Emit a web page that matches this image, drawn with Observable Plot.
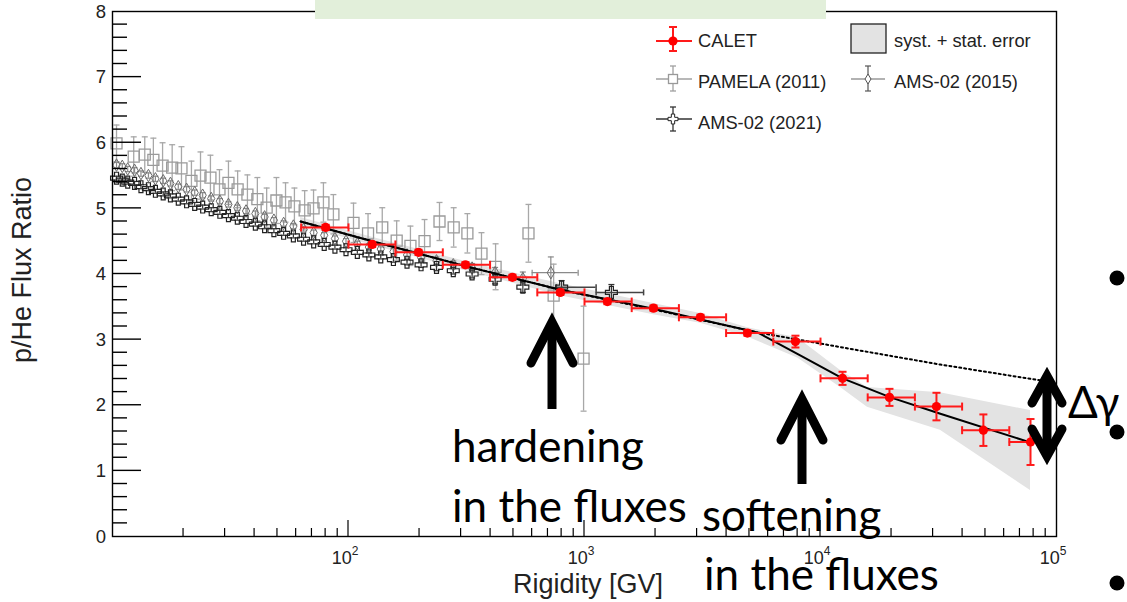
<!DOCTYPE html>
<html><head><meta charset="utf-8">
<script src="https://cdn.jsdelivr.net/npm/d3@7"></script>
<script src="https://cdn.jsdelivr.net/npm/@observablehq/plot@0.6"></script>
<style>body{margin:0;background:#fff;} svg{display:block;}</style>
</head><body><div id="chart"></div>
<script>
// ---------- data ----------
const calR     = [80,126,198,313,495,790,1250,1960,3100,4900,7830,12400,19600,31000,49000,77600];
const calRatio = [4.71,4.45,4.33,4.14,3.95,3.72,3.58,3.48,3.34,3.10,2.97,2.41,2.12,1.98,1.62,1.44];
const calErr   = [0.04,0.04,0.04,0.04,0.04,0.04,0.04,0.04,0.04,0.04,0.09,0.10,0.13,0.21,0.24,0.35];
const calLo    = [63,100,158,251,398,631,1000,1585,2512,3981,6310,10000,15849,25119,39811,63096];
const calHi    = [100,158,251,398,631,1000,1585,2512,3981,6310,10000,15849,25119,39811,63096,100000];

const bandR  = [62.7,126,313,790,1960,3100,4910,8000,12160,15810,32200,77600];
const bandLo = [4.74,4.44,4.05,3.67,3.38,3.25,3.04,2.72,2.27,1.97,1.62,0.70];
const bandHi = [4.86,4.56,4.19,3.85,3.55,3.40,3.18,3.03,2.53,2.27,2.19,1.92];

const fitR     = [62.7,126,313,790,1960,5400,8200,12400,19800,32200,78000];
const fitRatio = [4.80,4.50,4.12,3.76,3.47,3.11,2.76,2.41,2.12,1.87,1.43];
const dotR     = [62.7,126,313,790,1960,5400,12400,32200,85000];
const dotRatio = [4.80,4.50,4.12,3.76,3.46,3.11,2.88,2.62,2.38];

const pamR     = [10.4,12.3,13.7,14.9,16.3,17.9,19.6,21.6,23.6,26.0,28.4,31.0,33.9,37.3,41.1,45.0,49.5,54.1,59.0,65.2,71.1,78.3,86.3,105,121,139,160,183,210,243,279,319,366,420,579,740,991];
const pamRatio = [5.99,5.79,5.82,5.74,5.65,5.62,5.61,5.42,5.50,5.47,5.29,5.39,5.29,5.21,5.14,5.01,5.12,5.09,5.03,4.97,5.00,5.09,4.91,4.78,4.62,4.71,4.51,4.43,4.50,4.80,4.71,4.62,4.31,4.11,4.62,3.67,2.71];
const pamErr   = [0.28,0.30,0.27,0.33,0.35,0.35,0.33,0.30,0.36,0.34,0.30,0.33,0.28,0.30,0.33,0.30,0.35,0.30,0.28,0.30,0.28,0.30,0.30,0.30,0.30,0.30,0.30,0.30,0.33,0.29,0.30,0.30,0.32,0.35,0.44,0.48,0.80];

const ams21R     = [10.4,11.0,11.6,12.4,13.2,14.2,15.2,16.4,17.6,19.0,20.6,22.3,24.1,26.2,28.5,31.0,33.8,36.8,40.3,44.1,48.3,53.1,58.4,64.5,71.2,78.9,87.6,97.6,109,122,137,155,177,203,236,278,334,418,548,800,1300];
const ams21Ratio = [5.46,5.43,5.40,5.38,5.33,5.30,5.26,5.22,5.19,5.14,5.10,5.06,5.02,4.98,4.94,4.89,4.85,4.80,4.76,4.72,4.66,4.62,4.58,4.53,4.49,4.45,4.41,4.37,4.33,4.29,4.26,4.22,4.18,4.14,4.10,4.05,4.00,3.92,3.80,3.80,3.72];
const ams21Err   = [0.03,0.03,0.03,0.03,0.03,0.03,0.03,0.03,0.03,0.03,0.03,0.03,0.03,0.03,0.03,0.03,0.03,0.03,0.03,0.03,0.03,0.03,0.03,0.03,0.03,0.03,0.03,0.03,0.03,0.03,0.03,0.04,0.04,0.04,0.05,0.05,0.06,0.07,0.08,0.10,0.12];
const ams21WideR  = [800,1300];
const ams21WideLo = [760,1120];
const ams21WideHi = [1120,1780];

const ams15R     = [10.4,11.0,11.6,12.4,13.2,14.2,15.2,16.4,17.6,19.0,20.6,22.3,24.1,26.2,28.5,31.0,33.8,36.8,40.3,44.1,48.3,53.1,58.4,64.5,71.2,78.9,87.6,97.6,109,122,137,155,177,203,236,278,334,418,548,720];
const ams15Ratio = [5.66,5.64,5.60,5.58,5.53,5.50,5.45,5.42,5.38,5.33,5.29,5.24,5.20,5.15,5.11,5.06,5.01,4.96,4.92,4.87,4.82,4.77,4.73,4.68,4.63,4.59,4.54,4.50,4.46,4.41,4.38,4.34,4.29,4.25,4.20,4.14,4.09,4.02,3.93,4.02];
const ams15Err   = [0.04,0.04,0.04,0.04,0.04,0.04,0.04,0.04,0.04,0.04,0.04,0.04,0.04,0.04,0.04,0.04,0.04,0.04,0.04,0.04,0.04,0.04,0.04,0.04,0.04,0.04,0.04,0.04,0.04,0.05,0.05,0.05,0.05,0.05,0.06,0.06,0.07,0.08,0.10,0.24];
const ams15WideR  = [720];
const ams15WideLo = [600];
const ams15WideHi = [940];

const xTickValues = [100,1000,10000,100000];
const xTickExp    = ["2","3","4","5"];
const yTickValues = [0,1,2,3,4,5,6,7,8];

const legendLabels = ["CALET","syst. + stat. error","PAMELA (2011)","AMS-02 (2015)","AMS-02 (2021)"];
const xTitle = "Rigidity [GV]";
const yTitle = "p/He Flux Ratio";
const slideTitle = "p/He flux ratio (rigidity)";
const noteHard = ["hardening","in the fluxes"];
const noteSoft = ["softening","in the fluxes"];
const noteDelta = "Δγ";

// ---------- tables ----------
const cal  = calR.map((R,i)=>({R, v:calRatio[i], e:calErr[i], lo:calLo[i], hi:calHi[i]}));
const band = bandR.map((R,i)=>({R, lo:bandLo[i], hi:bandHi[i]}));
const fit  = fitR.map((R,i)=>({R, v:fitRatio[i]}));
const dotl = dotR.map((R,i)=>({R, v:dotRatio[i]}));
const pam  = pamR.map((R,i)=>({R, v:pamRatio[i], e:pamErr[i]}));
const a21  = ams21R.map((R,i)=>({R, v:ams21Ratio[i], e:ams21Err[i]}));
const a15  = ams15R.map((R,i)=>({R, v:ams15Ratio[i], e:ams15Err[i]}));
const a21w = ams21WideR.map((R,i)=>({R, lo:ams21WideLo[i], hi:ams21WideHi[i], v:ams21Ratio[ams21R.indexOf(R)]}));
const a15w = ams15WideR.map((R,i)=>({R, lo:ams15WideLo[i], hi:ams15WideHi[i], v:ams15Ratio[ams15R.indexOf(R)]}));

const capH = {draw(ctx,size){const r=Math.sqrt(size/Math.PI); ctx.moveTo(-r,0); ctx.lineTo(r,0);}};
const capV = {draw(ctx,size){const r=Math.sqrt(size/Math.PI); ctx.moveTo(0,-r); ctx.lineTo(0,r);}};

function errMarks(data, color, w, cap){
  return [
    Plot.ruleX(data,{x:"R", y1:d=>d.v-d.e, y2:d=>d.v+d.e, stroke:color, strokeWidth:w}),
    Plot.dot(data,{x:"R", y:d=>d.v+d.e, symbol:capH, r:cap, stroke:color, strokeWidth:w, fill:"none"}),
    Plot.dot(data,{x:"R", y:d=>d.v-d.e, symbol:capH, r:cap, stroke:color, strokeWidth:w, fill:"none"})
  ];
}
function xBarMarks(data, color, w, cap){
  return [
    Plot.ruleY(data,{y:"v", x1:"lo", x2:"hi", stroke:color, strokeWidth:w}),
    Plot.dot(data,{x:"lo", y:"v", symbol:capV, r:cap, stroke:color, strokeWidth:w, fill:"none"}),
    Plot.dot(data,{x:"hi", y:"v", symbol:capV, r:cap, stroke:color, strokeWidth:w, fill:"none"})
  ];
}

const chart = Plot.plot({
  width:1127, height:602,
  marginLeft:112, marginRight:71, marginTop:11, marginBottom:66,
  x:{type:"log", domain:[10,1e5], axis:null},
  y:{domain:[0,8], axis:null},
  style:{background:"#fff", overflow:"visible"},
  marks:[
    Plot.areaY(band,{x:"R", y1:"lo", y2:"hi", fill:"#e3e3e3"}),
    ...errMarks(pam,"#a8a8a8",1.3,3),
    Plot.dot(pam,{x:"R", y:"v", symbol:"square", r:6.2, stroke:"#9a9a9a", strokeWidth:1.3, fill:"none"}),
    ...errMarks(a15,"#8a8a8a",1.2,3),
    ...xBarMarks(a15w,"#8a8a8a",1.2,3),
    Plot.dot(a15,{x:"R", y:"v", symbol:"diamond", r:3.8, stroke:"#6a6a6a", strokeWidth:1, fill:"none"}),
    ...errMarks(a21,"#333",1.2,3),
    ...xBarMarks(a21w,"#444",1.5,3),
    Plot.dot(a21,{x:"R", y:"v", symbol:"cross", r:5, stroke:"#222", strokeWidth:1.2, fill:"none"}),
    Plot.line(dotl,{x:"R", y:"v", stroke:"#000", strokeWidth:2, strokeDasharray:"2,3"}),
    Plot.line(fit,{x:"R", y:"v", stroke:"#000", strokeWidth:2}),
    ...xBarMarks(cal,"#ff1a1a",2,4),
    ...errMarks(cal,"#ff1a1a",2,4),
    Plot.dot(cal,{x:"R", y:"v", r:4.6, fill:"#ff0000", stroke:"none"}),
    Plot.frame({stroke:"#000", strokeWidth:1.4})
  ]
});
document.getElementById("chart").appendChild(chart);

// ---------- axes, legend, annotations ----------
const sx = chart.scale("x"), sy = chart.scale("y");
const X = v=>sx.apply(v), Y = v=>sy.apply(v);
const svg = d3.select(chart);
const g = svg.append("g").attr("text-anchor","start");
const x0 = X(10), y0 = Y(0);
const ROOTF = "'Liberation Sans', Arial, Helvetica, sans-serif";
const SLIDEF = "Lato, 'Open Sans', sans-serif";
function line(p, a,b,c,d, col, w){ p.append("line").attr("x1",a).attr("y1",b).attr("x2",c).attr("y2",d).attr("stroke",col).attr("stroke-width",w); }

// ticks
const ax = g.append("g");
for (const dec of [10,100,1000,10000]) for (let k=2;k<=9;k++){ const xv=X(dec*k); line(ax,xv,y0,xv,y0-8,"#000",1.2); }
for (const v of xTickValues) if (v>10 && v<1e5){ line(ax,X(v),y0,X(v),y0-16,"#000",1.2); }
for (let i=1;i<40;i++){ const v=i*0.2, major=(i%5===0); line(ax,x0,Y(v),x0+(major?29:15),Y(v),"#000",1.4); }

// tick labels
yTickValues.forEach(v=>{
  g.append("text").attr("x",x0-6).attr("y",Y(v)).attr("dy","0.36em").attr("text-anchor","end")
   .attr("font-family",ROOTF).attr("font-size",18.5).attr("fill","#222").text(String(v));
});
xTickValues.forEach((v,i)=>{
  const t = g.append("text").attr("x",X(v)-3).attr("y",y0+28).attr("text-anchor","middle")
   .attr("font-family",ROOTF).attr("font-size",18).attr("fill","#222");
  t.append("tspan").text("10");
  t.append("tspan").attr("dy",-9).attr("font-size",12).text(xTickExp[i]);
});
// axis titles
g.append("text").attr("x",663).attr("y",593).attr("text-anchor","end")
 .attr("font-family",ROOTF).attr("font-size",27).attr("fill","#222").text(xTitle);
g.append("text").attr("transform","translate(31,177) rotate(-90)").attr("text-anchor","end")
 .attr("font-family",ROOTF).attr("font-size",27).attr("fill","#222").text(yTitle);

// legend
const lg = g.append("g").attr("text-anchor","start");
const lt = (x,y,s)=>lg.append("text").attr("x",x).attr("y",y).attr("text-anchor","start").attr("font-family",ROOTF).attr("font-size",18.3).attr("fill","#222").text(s);
// CALET
line(lg,656,41,692,41,"#ff1a1a",2); line(lg,673,27,673,51,"#ff1a1a",2);
line(lg,669,27,677,27,"#ff1a1a",2); line(lg,669,51,677,51,"#ff1a1a",2);
lg.append("circle").attr("cx",673).attr("cy",41).attr("r",4.6).attr("fill","#ff0000");
lt(698,47,legendLabels[0]);
// band box
lg.append("rect").attr("x",851).attr("y",24).attr("width",35).attr("height",29).attr("fill","#e3e3e3").attr("stroke","#222").attr("stroke-width",1.3);
lt(894,47,legendLabels[1]);
// PAMELA
line(lg,656,79,692,79,"#a0a0a0",1.3); line(lg,673,66,673,91,"#a0a0a0",1.3);
line(lg,670,66,676,66,"#a0a0a0",1.3); line(lg,670,91,676,91,"#a0a0a0",1.3);
lg.append("rect").attr("x",668.5).attr("y",74.5).attr("width",9).attr("height",9).attr("fill","#fff").attr("stroke","#999").attr("stroke-width",1.3);
lt(698,88,legendLabels[2]);
// AMS 2015
line(lg,851,79,885,79,"#666",1.2); line(lg,868,66,868,91,"#555",1.2);
line(lg,865,66,871,66,"#555",1.2); line(lg,865,91,871,91,"#555",1.2);
lg.append("path").attr("d","M868,74L871,79L868,84L865,79Z").attr("fill","#fff").attr("stroke","#555").attr("stroke-width",1);
lt(894,88,legendLabels[3]);
// AMS 2021
line(lg,656,119,692,119,"#333",1.3); line(lg,673,107,673,131,"#333",1.3);
line(lg,670,107,676,107,"#333",1.3); line(lg,670,131,676,131,"#333",1.3);
lg.append("path").attr("d",d3.symbol(d3.symbolCross, 55)()).attr("transform","translate(673,119)").attr("fill","#fff").attr("stroke","#222").attr("stroke-width",1);
lt(698,129,legendLabels[4]);

// slide overlays
const ov = svg.append("g").attr("text-anchor","start");
ov.append("rect").attr("x",315).attr("y",0).attr("width",511).attr("height",19).attr("fill","#e2efda");
ov.append("text").attr("x",335).attr("y",-8).attr("text-anchor","start").attr("font-family",SLIDEF).attr("font-size",46).attr("fill","#000").text(slideTitle);

function upArrow(x, tip, bottom){
  ov.append("path").attr("d",`M${x},${tip+4}L${x},${bottom}`).attr("stroke","#000").attr("stroke-width",9).attr("fill","none");
  ov.append("path").attr("d",`M${x-21},${tip+41}L${x},${tip}L${x+21},${tip+41}`).attr("stroke","#000").attr("stroke-width",9)
    .attr("fill","none").attr("stroke-linecap","round").attr("stroke-linejoin","miter");
}
upArrow(552,322,409);
upArrow(802,399,484);
// double arrow
ov.append("path").attr("d","M1047,378L1047,454").attr("stroke","#000").attr("stroke-width",9).attr("fill","none");
ov.append("path").attr("d","M1032,403L1047,376L1062,403").attr("stroke","#000").attr("stroke-width",9).attr("fill","none").attr("stroke-linecap","round");
ov.append("path").attr("d","M1032,429L1047,456L1062,429").attr("stroke","#000").attr("stroke-width",9).attr("fill","none").attr("stroke-linecap","round");

const st = (x,y,s,fs)=>ov.append("text").attr("x",x).attr("y",y).attr("text-anchor","start").attr("font-family",SLIDEF).attr("font-size",fs||44).attr("fill","#000").text(s);
st(452,462,noteHard[0]); st(452,522,noteHard[1]);
st(702,531,noteSoft[0]); st(704,590,noteSoft[1]);
st(1068,418,noteDelta);
[278,432,583].forEach(y=>ov.append("circle").attr("cx",1117).attr("cy",y).attr("r",7.5).attr("fill","#000"));
</script>
</body></html>
